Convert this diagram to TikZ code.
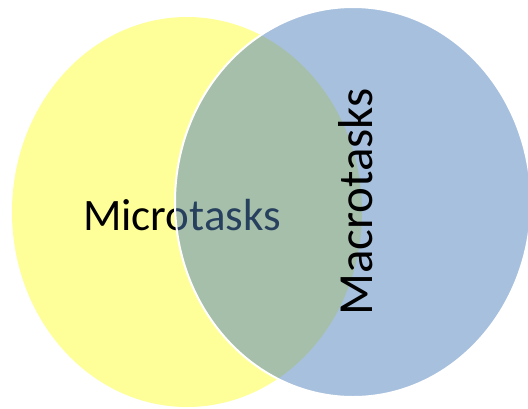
\documentclass[tikz,border=0pt]{standalone}
\usepackage{fontspec}
\setmainfont{Carlito}
\usetikzlibrary{positioning}
\definecolor{microyellow}{HTML}{FFFF99}
\definecolor{macroblue}{HTML}{4F81BD}

\begin{document}
\begin{tikzpicture}[x=1pt, y=-1pt, font=\fontsize{45}{54}\selectfont]
  \useasboundingbox (0,0) rectangle (528,408);
  \clip (0,0) rectangle (528,408);
  % micro set
  \fill[microyellow] (187,212) ellipse [x radius=175, y radius=195];
  \node[anchor=base, inner sep=0pt] (micro) at (182,230) {Microtasks};
  % macro set, laid over the micro one
  \filldraw[fill=macroblue, fill opacity=0.5, draw=white, line width=2pt]
    (353,202) ellipse [x radius=178, y radius=195];
  \node[anchor=base, rotate=90, inner sep=0pt, font=\fontsize{49}{58}\selectfont]
    (macro) at (372,202) {Macrotasks};
\end{tikzpicture}
\end{document}
